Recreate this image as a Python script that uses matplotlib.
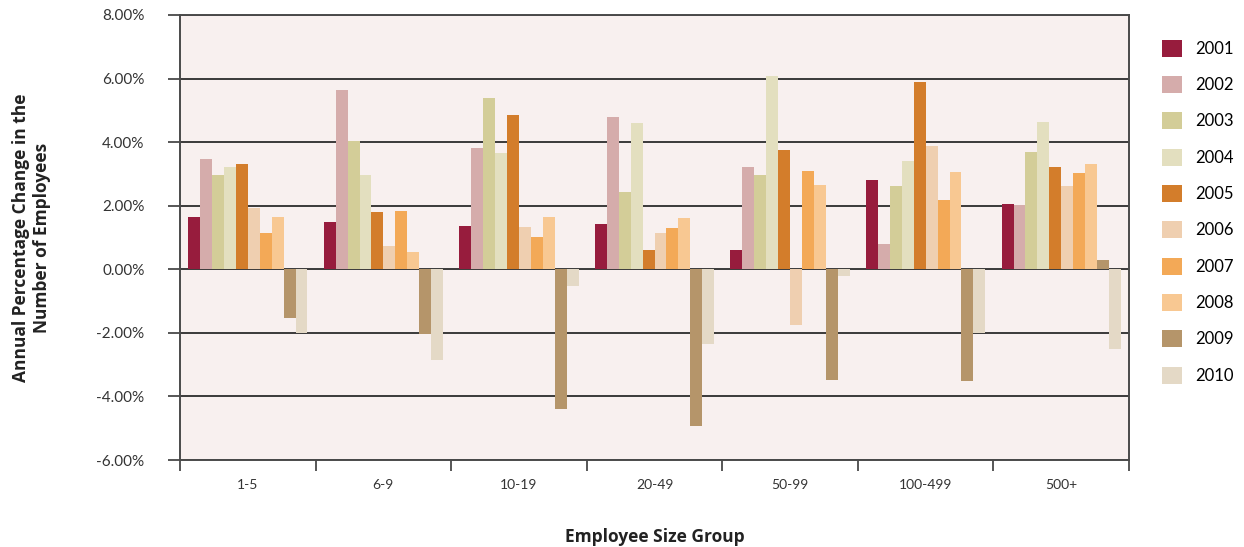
import matplotlib
matplotlib.use("Agg")
import matplotlib.pyplot as plt
from matplotlib.patches import Patch
import numpy as np

groups = ["1-5", "6-9", "10-19", "20-49", "50-99", "100-499", "500+"]
years = ["2001", "2002", "2003", "2004", "2005", "2006", "2007", "2008", "2009", "2010"]

# Annual % change per size group, one list per year
v2001 = [1.65, 1.49, 1.36, 1.43, 0.61, 2.81, 2.06]
v2002 = [3.47, 5.65, 3.82, 4.80, 3.22, 0.80, 2.02]
v2003 = [2.97, 4.04, 5.39, 2.43, 2.97, 2.62, 3.69]
v2004 = [3.22, 2.97, 3.66, 4.61, 6.09, 3.41, 4.64]
v2005 = [3.32, 1.80, 4.86, 0.61, 3.76, 5.90, 3.22]
v2006 = [1.93, 0.73, 1.33, 1.14, -1.74, 3.88, 2.62]
v2007 = [1.14, 1.84, 1.02, 1.30, 3.10, 2.18, 3.03]
v2008 = [1.65, 0.55, 1.65, 1.62, 2.65, 3.06, 3.32]
v2009 = [-1.52, -2.03, -4.40, -4.93, -3.47, -3.50, 0.29]
v2010 = [-2.00, -2.84, -0.51, -2.34, -0.20, -2.01, -2.50]
series = [v2001, v2002, v2003, v2004, v2005, v2006, v2007, v2008, v2009, v2010]

colors = ["#971C3D", "#D5ACAB", "#D3CD98", "#E3DFBF", "#D37D2B",
          "#EFCFB0", "#F3A957", "#F8C892", "#B5956A", "#E4D9C6"]

fig = plt.figure(figsize=(12.44, 5.47), dpi=100)
ax = fig.add_axes([0.1447, 0.159, 0.7629, 0.8136])
ax.set_facecolor("#F8F0EF")

x = np.arange(len(groups))
w = 0.088
for i, (vals, c) in enumerate(zip(series, colors)):
    ax.bar(x + (i - 4.5) * w, vals, width=w, color=c, zorder=3, linewidth=0)

ax.set_xlim(-0.5, len(groups) - 0.5)
ax.set_ylim(-6, 8)
yt = np.arange(-6, 9, 2)
ax.set_yticks(yt)
ax.set_yticklabels([f"{v:.2f}%" for v in yt], fontsize=11, family="Lato", color="#333333")
for v in yt:
    ax.axhline(v, color="#3a3a3a", lw=1.4, zorder=1)

ax.set_xticks(np.arange(-0.5, len(groups), 1.0))
ax.set_xticklabels([])
ax.set_xticks(x, minor=True)
ax.set_xticklabels(groups, minor=True, fontsize=10, family="Lato", color="#333333")
ax.tick_params(axis="x", which="major", length=8, width=1.2, color="#3a3a3a", direction="out")
ax.tick_params(axis="x", which="minor", length=0, pad=14)
ax.tick_params(axis="y", length=9, width=1.2, color="#3a3a3a", pad=16.5)

for s in ax.spines.values():
    s.set_color("#4a4a4a")
    s.set_linewidth(1.4)

ax.set_xlabel("Employee Size Group", fontsize=12.5, fontweight="bold",
              family="Open Sans", color="#222222", labelpad=26)
ax.set_ylabel("Annual Percentage Change in the\nNumber of Employees", fontsize=12.5,
              fontweight="bold", family="Open Sans", color="#222222", labelpad=33,
              linespacing=1.2)

handles = [Patch(facecolor=c, edgecolor="none") for c in colors]
fig.legend(handles, years, loc="upper left", bbox_to_anchor=(0.922, 0.955),
           frameon=False, handlelength=1.2, handleheight=1.2,
           labelspacing=1.15, handletextpad=0.8, prop={"family": "Lato", "size": 12})

fig.savefig("out.png", dpi=100, facecolor="white")
